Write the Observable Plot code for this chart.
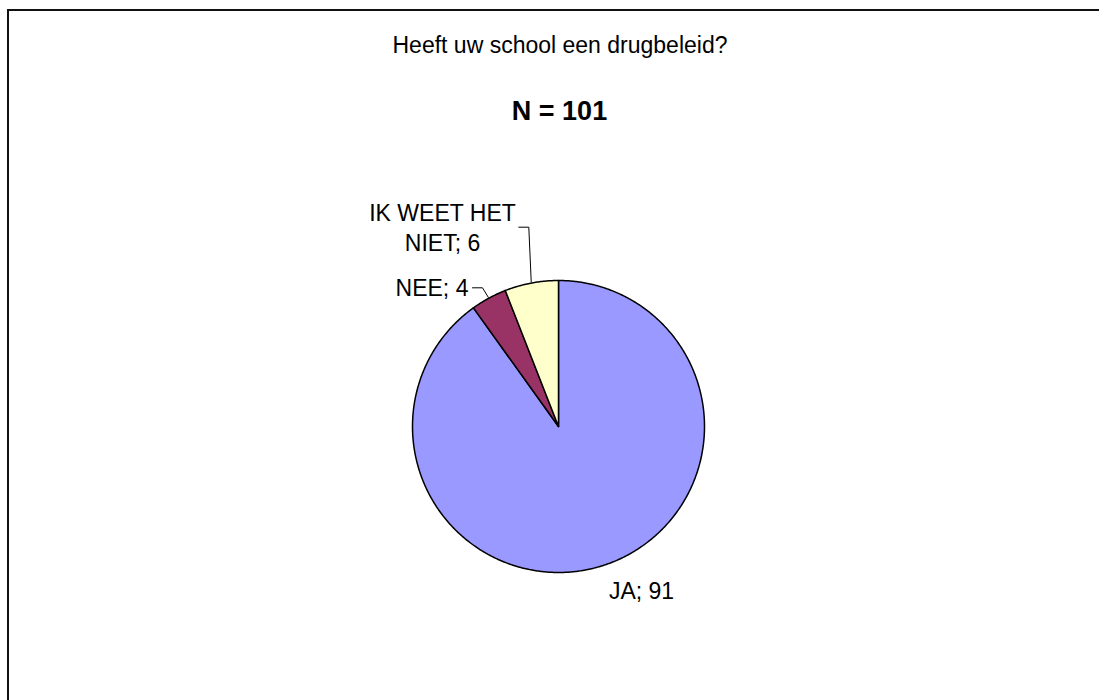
<!DOCTYPE html>
<html><head><meta charset="utf-8">
<script src="https://cdn.jsdelivr.net/npm/d3@7"></script>
<script src="https://cdn.jsdelivr.net/npm/@observablehq/plot@0.6"></script>
<style>
html,body{margin:0;padding:0;background:#fff;overflow:hidden;}
#wrap{position:relative;width:1099px;height:700px;overflow:hidden;font-family:"Liberation Sans",Arial,sans-serif;background:#fff;}
.ln{position:absolute;background:#111;}
#chart{position:absolute;left:0;top:0;}
.t{position:absolute;left:0;text-align:center;color:#000;white-space:nowrap;line-height:normal;}
</style></head><body>
<div id="wrap">
<div class="ln" style="left:7px;top:9px;width:1092px;height:2px;"></div>
<div class="ln" style="left:7px;top:9px;width:2px;height:691px;"></div>
<div id="chart"></div>
<div class="t" id="title" style="top:31.5px;width:1120px;font-size:23px;">Heeft uw school een drugbeleid?</div>
<div class="t" id="sub" style="top:95.5px;width:1119px;font-size:27px;font-weight:bold;">N = 101</div>
</div>
<script>
// data
const categories = ["JA", "NEE", "IK WEET HET NIET"];
const values = [91, 4, 6];
const colors = ["#9999FF", "#993366", "#FFFFCC"];

// layout (pixels)
const cx = 558, cy = 426, r = 146;
const labelX = [641, 431.5, 442];
const labelY = [588.6, 286, 225.9];
const leaderStart = [null, [472, 287.3], [518.3, 226.7]];

const total = d3.sum(values);
let acc = 0;
const slices = categories.map((c, i) => {
  const a0 = acc / total * 2 * Math.PI;
  acc += values[i];
  const a1 = acc / total * 2 * Math.PI;
  return {cat: c, value: values[i], a0, a1, mid: (a0 + a1) / 2, i};
});
const piePts = slices.flatMap(s => {
  const pts = [{cat: s.cat, x: cx, y: cy}];
  const n = Math.max(2, Math.ceil((s.a1 - s.a0) / (Math.PI / 360)));
  for (let k = 0; k <= n; k++) {
    const a = s.a0 + (s.a1 - s.a0) * k / n;
    pts.push({cat: s.cat, x: cx + r * Math.sin(a), y: cy - r * Math.cos(a)});
  }
  return pts;
});
const leaderPts = slices.filter(s => leaderStart[s.i]).flatMap(s => {
  const [sx, sy] = leaderStart[s.i];
  const ex = cx + (r + 1) * Math.sin(s.mid), ey = cy - (r + 1) * Math.cos(s.mid);
  return [{cat: s.cat, x: sx, y: sy}, {cat: s.cat, x: sx + 10, y: sy}, {cat: s.cat, x: ex, y: ey}];
});

const chart = Plot.plot({
  width: 1099, height: 700, margin: 0,
  x: {domain: [0, 1099], range: [0, 1099], axis: null},
  y: {domain: [0, 700], range: [0, 700], axis: null},
  color: {domain: categories, range: colors},
  style: {background: "transparent", fontFamily: "'Liberation Sans', Arial, sans-serif"},
  marks: [
    Plot.line(piePts, {x: "x", y: "y", z: "cat", fill: "cat", stroke: "#000", strokeWidth: 1.5, curve: "linear-closed", strokeLinejoin: "round"}),
    Plot.line(leaderPts, {x: "x", y: "y", z: "cat", stroke: "#000", strokeWidth: 1}),
    Plot.text(slices, {
      x: d => labelX[d.i], y: d => labelY[d.i],
      text: d => `${d.cat}; ${d.value}`,
      fontSize: 23, fill: "#000", lineWidth: 7, lineHeight: 1.304, textAnchor: "middle"
    })
  ]
});
document.getElementById("chart").appendChild(chart);
</script>
</body></html>
